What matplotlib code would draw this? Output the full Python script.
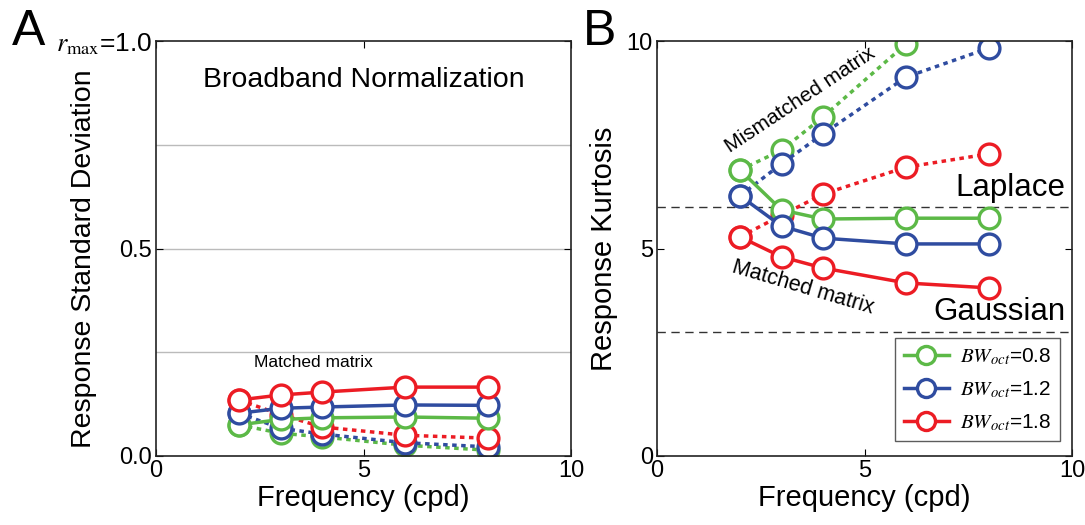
import numpy as np
import matplotlib
matplotlib.use('Agg')
import matplotlib.pyplot as plt

plt.rcParams['font.family'] = ['Liberation Sans', 'DejaVu Sans']
plt.rcParams['mathtext.fontset'] = 'stix'

# data
freq = [2, 3, 4, 6, 8]
bw_labels = [r'$BW_{oct}$=0.8', r'$BW_{oct}$=1.2', r'$BW_{oct}$=1.8']
colors = ['#5cb947', '#2f4ca0', '#ec1c24']

# panel A: response standard deviation
sd_matched = [
    [0.075, 0.088, 0.092, 0.094, 0.091],   # 0.8
    [0.103, 0.115, 0.118, 0.123, 0.122],   # 1.2
    [0.135, 0.147, 0.154, 0.166, 0.166],   # 1.8
]
sd_mismatched = [
    [0.075, 0.055, 0.046, 0.026, 0.014],
    [0.103, 0.067, 0.053, 0.032, 0.022],
    [0.135, 0.100, 0.070, 0.050, 0.043],
]

# panel B: response kurtosis
kurt_matched = [
    [6.89, 5.93, 5.71, 5.73, 5.73],
    [6.27, 5.54, 5.25, 5.11, 5.11],
    [5.28, 4.80, 4.53, 4.17, 4.05],
]
kurt_mismatched = [
    [6.89, 7.37, 8.17, 9.93, 11.6],
    [6.27, 7.04, 7.76, 9.13, 9.83],
    [5.28, 5.80, 6.31, 6.96, 7.28],
]
laplace = 6
gaussian = 3

fig = plt.figure(figsize=(10.85, 5.25), dpi=100)
axA = fig.add_axes([156/1085, 69/525, 415/1085, 415/525])
axB = fig.add_axes([657/1085, 69/525, 415/1085, 415/525])

mk = dict(marker='o', markersize=15, markerfacecolor='white', markeredgewidth=2.4, lw=2.5)

for ax, matched, mism in [(axA, sd_matched, sd_mismatched), (axB, kurt_matched, kurt_mismatched)]:
    for i in range(3):
        ax.plot(freq, mism[i], color=colors[i], ls=(0, (1.3, 1.3)), zorder=2 + i * 0.1, **mk)
    for i in range(3):
        ax.plot(freq, matched[i], color=colors[i], ls='-', label=bw_labels[i], zorder=3 + i * 0.1, **mk)

# panel A
for g in [0.25, 0.5, 0.75]:
    axA.axhline(g, color='#bbbbbb', lw=1, zorder=1)
axA.set_xlim(0, 10)
axA.set_ylim(0, 1)
axA.set_yticks([0, 0.5, 1.0])
axA.set_yticklabels(['0.0', '0.5', r'$r_{\rm max}$=1.0'])
axA.set_xticks([0, 5, 10])
axA.set_ylabel('Response Standard Deviation', fontsize=20.5)
axA.yaxis.set_label_coords(-0.142, 0.475)
axA.set_xlabel('Frequency (cpd)', fontsize=21, labelpad=1)
axA.text(5, 0.905, 'Broadband Normalization', fontsize=20.5, ha='center', va='center')
axA.text(3.8, 0.225, 'Matched matrix', fontsize=12.5, ha='center', va='center')

# panel B
axB.axhline(laplace, color='#333333', lw=1, ls=(0, (6, 4)), zorder=1)
axB.axhline(gaussian, color='#333333', lw=1, ls=(0, (6, 4)), zorder=1)
axB.set_xlim(0, 10)
axB.set_ylim(0, 10)
axB.set_yticks([0, 5, 10])
axB.set_xticks([0, 5, 10])
axB.set_ylabel('Response Kurtosis', fontsize=21)
axB.yaxis.set_label_coords(-0.094, 0.5)
axB.set_xlabel('Frequency (cpd)', fontsize=21, labelpad=1)
axB.text(9.85, 6.1, 'Laplace', fontsize=22.5, ha='right', va='bottom')
axB.text(9.85, 3.1, 'Gaussian', fontsize=22.5, ha='right', va='bottom')
axB.text(3.45, 8.58, 'Mismatched matrix', fontsize=15, ha='center', va='center', rotation=33.5)
axB.text(3.52, 4.07, 'Matched matrix', fontsize=15.5, ha='center', va='center', rotation=-16.5)
leg = axB.legend(loc='lower right', fontsize=15, frameon=True, fancybox=False,
                 handlelength=2.2, borderpad=0.4, labelspacing=0.6, handletextpad=0.5,
                 bbox_to_anchor=(0.995, 0.01))
leg.get_frame().set_edgecolor('#333333')
leg.get_frame().set_linewidth(1)
for h in leg.legend_handles:
    h.set_markersize(13)

for ax in [axA, axB]:
    ax.tick_params(direction='in', length=5, labelsize=17, top=True, right=True, pad=3)
    for s in ax.spines.values():
        s.set_linewidth(1.2)
        s.set_color('#222222')
axA.get_yticklabels()[-1].set_fontsize(19)

fig.text(12/1085, 1 - 45/525, 'A', fontsize=36, va='baseline')
fig.text(583/1085, 1 - 45/525, 'B', fontsize=36, va='baseline')

fig.savefig('out.png', dpi=100)
